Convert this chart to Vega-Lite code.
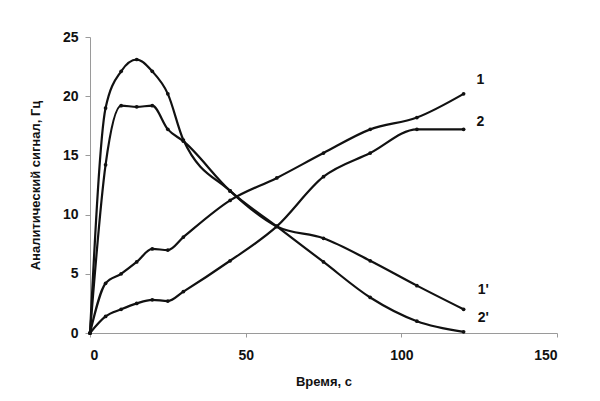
{
  "$schema": "https://vega.github.io/schema/vega-lite/v6.json",
  "width": 467,
  "height": 296,
  "autosize": {"type": "none"},
  "padding": {"left": 90, "top": 37, "right": 43, "bottom": 68},
  "background": "white",
  "config": {
    "view": {"stroke": null},
    "font": "Liberation Sans",
    "axis": {
      "grid": false,
      "domainColor": "#9a9a9a",
      "tickColor": "#9a9a9a",
      "labelFont": "Liberation Sans",
      "labelFontWeight": "bold",
      "labelFontSize": 14,
      "labelColor": "#111",
      "titleFont": "Liberation Sans",
      "titleFontWeight": "bold",
      "titleFontSize": 13,
      "titleColor": "#111"
    }
  },
  "datasets": {
    "curves": [
      {"s": "1", "t": 0, "v": 0}, {"s": "1", "t": 5, "v": 4.2}, {"s": "1", "t": 10, "v": 5}, {"s": "1", "t": 15, "v": 6}, {"s": "1", "t": 20, "v": 7.1}, {"s": "1", "t": 25, "v": 7}, {"s": "1", "t": 30, "v": 8.1}, {"s": "1", "t": 45, "v": 11.2}, {"s": "1", "t": 60, "v": 13.1}, {"s": "1", "t": 75, "v": 15.2}, {"s": "1", "t": 90, "v": 17.2}, {"s": "1", "t": 105, "v": 18.2}, {"s": "1", "t": 120, "v": 20.2},
      {"s": "2", "t": 0, "v": 0}, {"s": "2", "t": 5, "v": 1.4}, {"s": "2", "t": 10, "v": 2}, {"s": "2", "t": 15, "v": 2.5}, {"s": "2", "t": 20, "v": 2.8}, {"s": "2", "t": 25, "v": 2.7}, {"s": "2", "t": 30, "v": 3.5}, {"s": "2", "t": 45, "v": 6.1}, {"s": "2", "t": 60, "v": 9}, {"s": "2", "t": 75, "v": 13.2}, {"s": "2", "t": 90, "v": 15.2}, {"s": "2", "t": 105, "v": 17.2}, {"s": "2", "t": 120, "v": 17.2},
      {"s": "1'", "t": 0, "v": 0}, {"s": "1'", "t": 5, "v": 19}, {"s": "1'", "t": 10, "v": 22.1}, {"s": "1'", "t": 15, "v": 23.1}, {"s": "1'", "t": 20, "v": 22.1}, {"s": "1'", "t": 25, "v": 20.2}, {"s": "1'", "t": 30, "v": 16.3}, {"s": "1'", "t": 45, "v": 12}, {"s": "1'", "t": 60, "v": 9}, {"s": "1'", "t": 75, "v": 8}, {"s": "1'", "t": 90, "v": 6.1}, {"s": "1'", "t": 105, "v": 4}, {"s": "1'", "t": 120, "v": 2},
      {"s": "2'", "t": 0, "v": 0}, {"s": "2'", "t": 5, "v": 14.2}, {"s": "2'", "t": 10, "v": 19.2}, {"s": "2'", "t": 15, "v": 19.1}, {"s": "2'", "t": 20, "v": 19.2}, {"s": "2'", "t": 25, "v": 17.2}, {"s": "2'", "t": 30, "v": 16.2}, {"s": "2'", "t": 45, "v": 12}, {"s": "2'", "t": 60, "v": 9}, {"s": "2'", "t": 75, "v": 6}, {"s": "2'", "t": 90, "v": 3}, {"s": "2'", "t": 105, "v": 1}, {"s": "2'", "t": 120, "v": 0.1}
    ],
    "labels": [
      {"s": "1", "t": 125.4, "v": 21.4},
      {"s": "2", "t": 125.4, "v": 17.85},
      {"s": "1'", "t": 126.3, "v": 3.6},
      {"s": "2'", "t": 126.3, "v": 1.25}
    ]
  },
  "layer": [
    {
      "data": {"name": "curves"},
      "mark": {"type": "line", "interpolate": "monotone", "color": "#111", "strokeWidth": 2.2},
      "encoding": {
        "x": {
          "field": "t", "type": "quantitative",
          "scale": {"domain": [0, 150], "nice": false},
          "axis": {"values": [0, 50, 100, 150], "title": "Время, с", "tickSize": 4, "labelPadding": 11, "titlePadding": 13}
        },
        "y": {
          "field": "v", "type": "quantitative",
          "scale": {"domain": [0, 25], "nice": false},
          "axis": {"values": [0, 5, 10, 15, 20, 25], "title": "Аналитический сигнал, Гц", "tickSize": 5, "labelPadding": 7, "titlePadding": 20}
        },
        "detail": {"field": "s"}
      }
    },
    {
      "data": {"name": "curves"},
      "mark": {"type": "point", "filled": true, "color": "#111", "size": 14, "opacity": 1},
      "encoding": {
        "x": {"field": "t", "type": "quantitative"},
        "y": {"field": "v", "type": "quantitative"}
      }
    },
    {
      "data": {"name": "labels"},
      "mark": {"type": "text", "font": "Liberation Sans", "fontWeight": "bold", "fontSize": 14, "color": "#111", "align": "center", "baseline": "middle"},
      "encoding": {
        "x": {"field": "t", "type": "quantitative"},
        "y": {"field": "v", "type": "quantitative"},
        "text": {"field": "s"}
      }
    }
  ]
}
